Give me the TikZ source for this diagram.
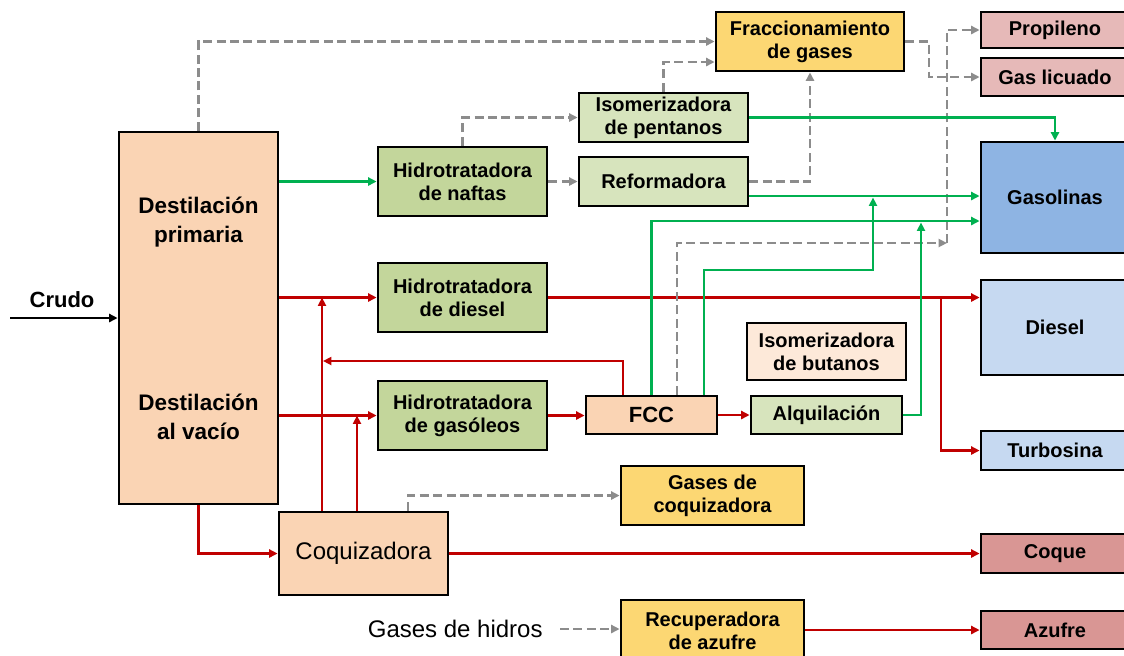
\documentclass[tikz,border=0pt]{standalone}
\usepackage{fontspec}
\setmainfont{Liberation Sans}
\usetikzlibrary{arrows.meta}
\definecolor{peach}{RGB}{250,212,180}
\definecolor{lpeach}{RGB}{253,233,217}
\definecolor{olive}{RGB}{195,214,155}
\definecolor{lgreen}{RGB}{215,228,189}
\definecolor{gold}{RGB}{252,215,115}
\definecolor{pinkb}{RGB}{230,185,184}
\definecolor{dpink}{RGB}{217,150,148}
\definecolor{gblue}{RGB}{142,180,227}
\definecolor{lblue}{RGB}{198,217,241}
\definecolor{lred}{RGB}{192,0,0}
\definecolor{lgrn}{RGB}{0,176,80}
\definecolor{lgray}{RGB}{140,140,140}
\newcommand\mkbox[8][]{\node[box,fill=#7,minimum width={(#5-#3)*0.5pt},minimum height={(#6-#4)*0.5pt},#1] (#2) at ({(#3+#5)/2},{(#4+#6)/2}) {#8};}
\begin{document}
\begin{tikzpicture}[x=0.5pt,y=-0.5pt,
  box/.style={draw=black,line width=1.4pt,rectangle,inner sep=0pt,align=center,
    font=\fontsize{10}{11.5}\selectfont\bfseries},
  big/.style={font=\fontsize{11.25}{14.5}\selectfont\bfseries,align=center,inner sep=0pt},
  tip/.style={-{Triangle[length=4.2pt,width=4pt]}},
  redA/.style={draw=lred,line width=1.3pt,tip},
  grnA/.style={draw=lgrn,line width=1.3pt,tip},
  blkA/.style={draw=black,line width=1.3pt,tip},
  gdashA/.style={draw=lgray,line width=1.35pt,dash pattern=on 4.5pt off 2.2pt,tip},
  gdash/.style={draw=lgray,line width=1.35pt,dash pattern=on 4.5pt off 2.2pt}]
\useasboundingbox (0,0) rectangle (1124,655);
\clip (0,0) rectangle (1124,655);
% boxes
\mkbox{dest}{119}{132}{278}{504}{peach}{}
\node[big] (dp) at (198.5,222.5) {Destilación\\primaria};
\node[big] (dv) at (198.5,416.5) {Destilación\\al vacío};
\mkbox{naftas}{378}{147}{547}{216}{olive}{Hidrotratadora\\de naftas}
\mkbox{hdiesel}{378}{263}{547}{332}{olive}{Hidrotratadora\\de diesel}
\mkbox{hgas}{378}{381}{547}{450}{olive}{Hidrotratadora\\de gasóleos}
\mkbox{isop}{579}{93}{748}{142}{lgreen}{Isomerizadora\\de pentanos}
\mkbox{reform}{579}{157}{748}{206}{lgreen}{Reformadora}
\mkbox{fracc}{716}{12}{904}{71}{gold}{Fraccionamiento\\de gases}
\mkbox{prop}{981}{12}{1129}{48}{pinkb}{Propileno}
\mkbox{gasl}{981}{58}{1129}{96}{pinkb}{Gas licuado}
\mkbox{gasol}{981}{142}{1129}{253}{gblue}{Gasolinas}
\mkbox{diesel}{981}{280}{1129}{375}{lblue}{Diesel}
\mkbox{isob}{747}{323}{906}{380}{lpeach}{Isomerizadora\\de butanos}
\mkbox[font=\fontsize{11}{13}\selectfont\bfseries]{fcc}{586}{396}{717}{434}{peach}{FCC}
\mkbox{alq}{751}{396}{902}{434}{lgreen}{Alquilación}
\mkbox{turbo}{981}{431}{1129}{470}{lblue}{Turbosina}
\mkbox{gcoq}{621}{466}{804}{525}{gold}{Gases de\\coquizadora}
\mkbox[font=\fontsize{12}{14}\selectfont]{coq}{279}{512}{448}{595}{peach}{Coquizadora}
\mkbox{coque}{981}{534}{1129}{573}{dpink}{Coque}
\mkbox{recup}{621}{600}{804}{661}{gold}{Recuperadora\\de azufre}
\mkbox{azufre}{981}{611}{1129}{649}{dpink}{Azufre}
\node[font=\fontsize{11}{13}\selectfont\bfseries,inner sep=0pt] (crudo) at (62,300) {Crudo};
\node[font=\fontsize{12}{14}\selectfont,inner sep=0pt,anchor=east] (hidros) at (543,629) {Gases de hidros};
% coordinates
\coordinate (crin) at (10,318);
\coordinate (fbk) at (323,361);
\coordinate (jt) at (941,297.5);
\coordinate (jp) at (947,243);
\coordinate (g1) at (873,197.5);
\coordinate (g2) at (921,222.5);
% red
\draw[redA] (hdiesel.west -| dest.east) -- (hdiesel.west);
\draw[redA] (hgas.west -| dest.east) -- (hgas.west);
\draw[redA] (dest.south) |- (coq.west);
\draw[redA] (coq.north -| 322,0) -- (hdiesel.west -| 322,0);
\draw[redA] (coq.north -| 357,0) -- (hgas.west -| 357,0);
\draw[redA] (fcc.north -| 623,0) |- (fbk);
\draw[redA] (hgas.east) -- (fcc.west |- hgas.east);
\draw[redA] (fcc.east) -- (alq.west);
\draw[redA] (hdiesel.east) -- (diesel.west |- hdiesel.east);
\draw[redA] (jt) |- (turbo.west);
\draw[redA] (coq.east) -- (coque.west);
\draw[redA] (recup.east |- azufre.west) -- (azufre.west);
\draw[blkA] (crin) -- (dest.west |- crin);
% gray dashed
\draw[gdashA] (dest.north) |- (fracc.west);
\draw[gdashA] (naftas.north) |- (isop.west);
\draw[gdashA] (naftas.east) -- (reform.west);
\draw[gdashA] (isop.north) |- (fracc.west |- 0,62);
\draw[gdashA] (reform.east) -| (fracc.south);
\draw[gdashA] (fracc.east) -| (gasl.west -| 929,0) -- (gasl.west);
\draw[gdashA] (fcc.north -| 677,0) |- (jp);
\draw[gdashA] (jp) |- (prop.west);
\draw[gdashA] (coq.north -| 408,0) |- (gcoq.west);
\draw[gdashA] ([xshift=8.5pt]hidros.east) -- (recup.west |- hidros.east);
% green
\draw[grnA] (naftas.west -| dest.east) -- (naftas.west);
\draw[grnA] (isop.east) -| (gasol.north);
\draw[grnA] (reform.east |- 0,196) -- (gasol.west |- 0,196);
\draw[grnA] (fcc.north) |- (gasol.west |- 0,221);
\draw[grnA] (fcc.north -| 704,0) |- (g1 |- 0,270) -- (g1);
\draw[grnA] (alq.east) -| (g2);
\end{tikzpicture}
\end{document}
